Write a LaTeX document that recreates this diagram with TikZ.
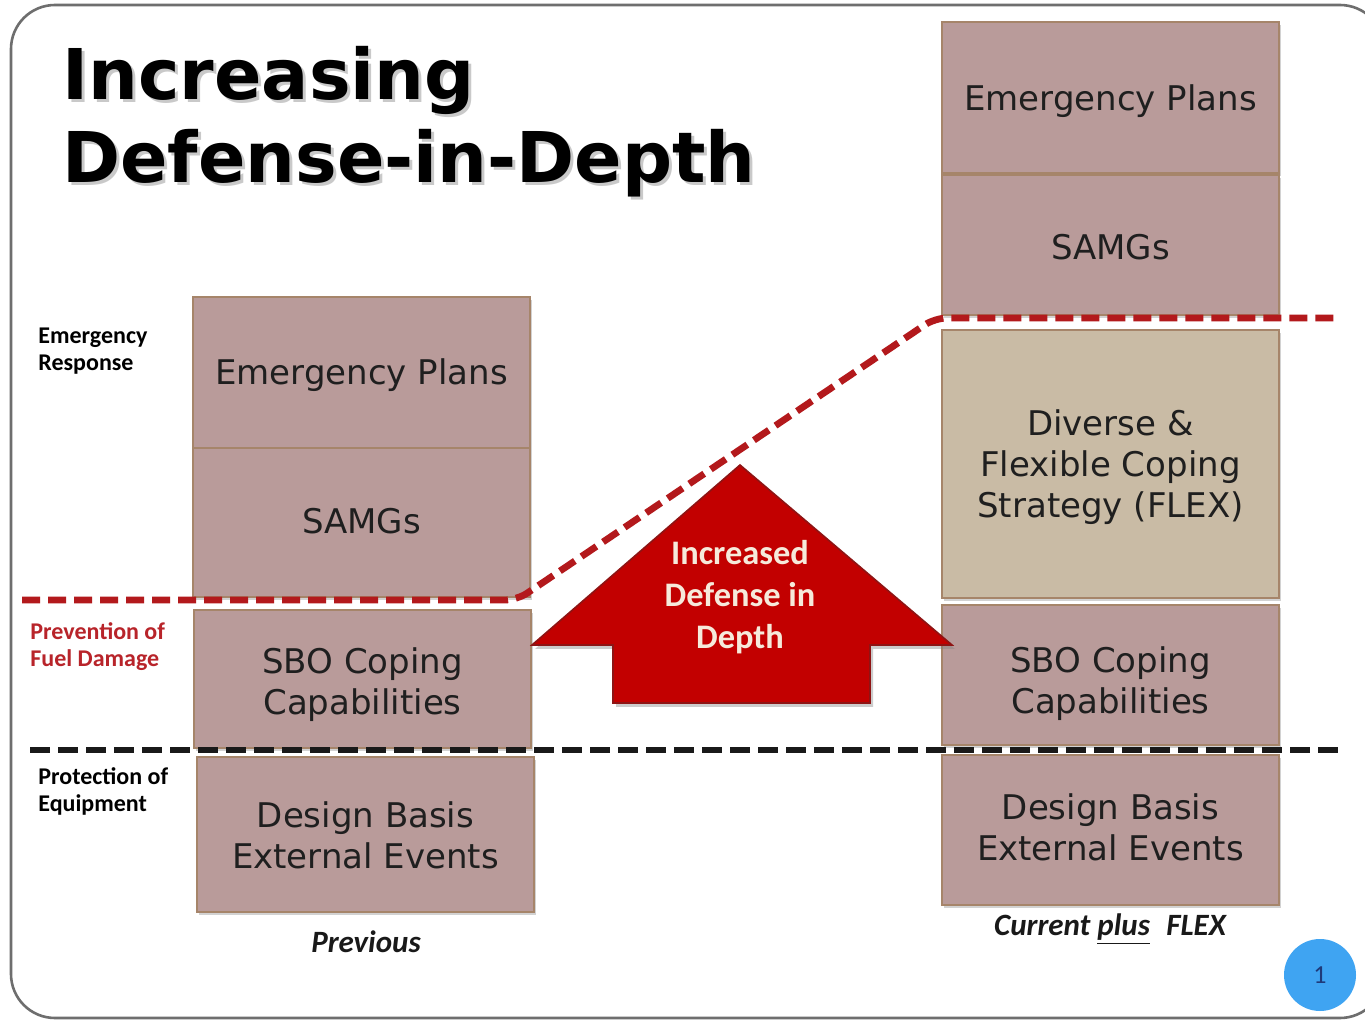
\documentclass[tikz,border=0pt]{standalone}
\usepackage{fontspec}
\setmainfont{DejaVu Sans}
\newfontfamily\carl{Carlito}
\usetikzlibrary{shadows}
\definecolor{boxfill}{HTML}{B99B9A}
\definecolor{flexfill}{HTML}{C9BBA5}
\definecolor{boxedge}{HTML}{A6856A}
\definecolor{arrowred}{HTML}{C20000}
\definecolor{arrowedge}{HTML}{8E1414}
\definecolor{linered}{HTML}{B3191C}
\definecolor{labelred}{HTML}{B8242A}
\definecolor{framegray}{HTML}{6E6E6E}
\definecolor{bubble}{HTML}{3FA4F2}
\definecolor{bubbletext}{HTML}{1F3A7A}
\definecolor{cream}{HTML}{F6EADB}
\newcommand\laytext[2]{\raisebox{-#1}[\height][\depth]{\begin{tabular}{@{}c@{}}#2\end{tabular}}}
\tikzset{
  layerbox/.style={draw=boxedge, line width=0.6pt, fill=boxfill, minimum width=168.5pt,
    align=center, inner sep=0pt, text=black!88,
    font=\fontsize{17}{20.5}\selectfont,
    drop shadow={shadow xshift=1pt, shadow yshift=-1.5pt, opacity=0.35}},
  flexbox/.style={layerbox, fill=flexfill},
  sidelabel/.style={anchor=west, align=left, inner sep=0pt, font=\carl\bfseries\fontsize{12}{13.5}\selectfont},
  redline/.style={draw=linered, line width=3.4pt, dash pattern=on 9pt off 4pt, rounded corners=6pt},
  blackline/.style={draw=black!90, line width=2.8pt, dash pattern=on 10pt off 4pt},
  caption/.style={inner sep=0pt, font=\carl\bfseries\itshape\fontsize{15.5}{18}\selectfont, text=black!90},
  titletext/.style={anchor=base west, inner sep=0pt, font=\bfseries\fontsize{35}{41.5}\selectfont},
}
\begin{document}
\begin{tikzpicture}[x=0.5pt, y=-0.5pt]
\useasboundingbox (0,0) rectangle (1365,1020);
\fill[white] (0,0) rectangle (1365,1020);
% frame
\draw[framegray, line width=1.3pt, rounded corners=22pt] (11,5) rectangle (1384,1018);

% title
\node[titletext, text=black!35, opacity=0.6] at (65,103) {Increasing};
\node[titletext, text=black!35, opacity=0.6] at (65,186) {Defense-in-Depth};
\node[titletext] (title1) at (62,100) {Increasing};
\node[titletext] (title2) at (62,183) {Defense-in-Depth};

% left column
\node[layerbox, minimum height=75.5pt] (lep) at (361.5,372.5) {\laytext{2pt}{Emergency Plans}};
\node[layerbox, minimum height=74.5pt] (lsamg) at (361.5,522.5) {\laytext{1.5pt}{SAMGs}};
\node[layerbox, minimum height=69pt] (lsbo) at (362.5,679) {\laytext{3.5pt}{SBO Coping\\Capabilities}};
\node[layerbox, minimum height=77.5pt] (ldb) at (365.5,834.5) {\laytext{2.5pt}{Design Basis\\External Events}};
\node[caption] (prev) at (366,942) {Previous};

% right column
\node[layerbox, minimum height=75.5pt] (rep) at (1110.5,97.5) {\laytext{2.5pt}{Emergency Plans}};
\node[layerbox, minimum height=70pt] (rsamg) at (1110.5,245) {\laytext{3pt}{SAMGs}};
\node[flexbox, minimum height=134pt] (rflex) at (1110.5,464) {\laytext{2pt}{Diverse \&\\Flexible Coping\\Strategy (FLEX)}};
\node[layerbox, minimum height=70pt] (rsbo) at (1110.5,675) {\laytext{5pt}{SBO Coping\\Capabilities}};
\node[layerbox, minimum height=75pt] (rdb) at (1110.5,830) {\laytext{1pt}{Design Basis\\External Events}};
\node[caption] (curr) at (1110,929) {Current \underline{plus}\hspace{0.3em} FLEX};

% side labels
\node[sidelabel] (er) at (38,351) {Emergency\\Response};
\node[sidelabel, text=labelred] (pfd) at (30,647) {Prevention of\\Fuel Damage};
\node[sidelabel] (poe) at (38,791) {Protection of\\Equipment};

% arrow
\path[fill=arrowred, draw=arrowedge, line width=0.8pt, line join=miter,
  drop shadow={shadow xshift=1.5pt, shadow yshift=-2pt, opacity=0.4}]
  (740,465) -- (952,645) -- (870,645) -- (870,703) -- (613,703) -- (613,645) -- (532,645) -- cycle;
\node[align=center, inner sep=0pt, text=cream, font=\carl\bfseries\fontsize{17.2}{21}\selectfont] (arrowtext) at (740,597) {Increased\\Defense in\\Depth};

% dashed lines
\coordinate (r0) at (22,600);
\coordinate (r1) at (517,600);
\coordinate (r2) at (935,318);
\coordinate (r3) at (1336,318);
\draw[redline] (r0) -- (r1) -- (r2) -- (r3);
\coordinate (b0) at (30,750);
\coordinate (b1) at (1342,750);
\draw[blackline] (b0) -- (b1);

% page number bubble
\node[circle, fill=bubble, minimum size=36pt, inner sep=0pt, text=bubbletext, font=\carl\fontsize{13}{15}\selectfont] (pg) at (1320,975) {1};
\end{tikzpicture}
\end{document}
